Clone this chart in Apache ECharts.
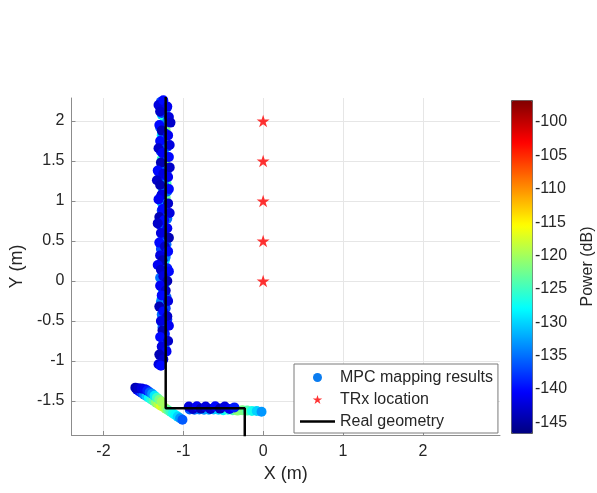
<!DOCTYPE html>
<html>
<head>
<meta charset="utf-8">
<script src="https://cdn.jsdelivr.net/npm/echarts@6/dist/echarts.min.js"></script>
<style>html,body{margin:0;padding:0;background:#fff}#c{width:597px;height:493px}</style>
</head>
<body>
<div id="c"></div>
<script>
// ---- Data ----
// Vertical wall strip, lighter (inner) estimates
const vertLightX = [-1.26,-1.24,-1.27,-1.23,-1.25,-1.22,-1.27,-1.24,-1.21,-1.26,
  -1.23,-1.27,-1.22,-1.25,-1.28,-1.23,-1.21,-1.26,-1.24,-1.22,
  -1.27,-1.23,-1.25,-1.21,-1.26,-1.23,-1.25,-1.22,-1.27,-1.24,
  -1.22,-1.26,-1.23,-1.25,-1.27,-1.22,-1.25,-1.23,-1.26,-1.24,
  -1.27,-1.23,-1.26,-1.24,-1.27,-1.25,-1.26];
const vertLightY = [2.22,2.15,2.08,2.02,1.95,1.88,1.82,1.75,1.70,1.64,
  1.58,1.52,1.46,1.40,1.34,1.28,1.22,1.16,1.10,1.04,
  0.98,0.92,0.86,0.80,0.74,0.68,0.62,0.56,0.50,0.44,
  0.38,0.32,0.26,0.20,0.14,0.08,0.02,-0.04,-0.10,-0.16,
  -0.22,-0.28,-0.36,-0.44,-0.52,-0.60,-0.68];
const vertLightP = [-132,-128,-130,-126,-131,-122,-129,-134,-119,-127,
  -131,-125,-121,-133,-128,-130,-124,-132,-127,-123,
  -131,-129,-126,-133,-128,-130,-125,-122,-132,-129,
  -127,-133,-130,-128,-131,-126,-134,-129,-132,-127,
  -131,-128,-133,-130,-129,-132,-127];
// Vertical wall strip, medium blue estimates
const vertMidX = [-1.28,-1.21,-1.27,-1.20,-1.29,-1.22,-1.26,-1.20,-1.28,-1.23,
  -1.27,-1.21,-1.29,-1.24,-1.20,-1.28,-1.22,-1.27,-1.20,-1.29,
  -1.23,-1.26,-1.21,-1.28,-1.22,-1.27,-1.20,-1.29,-1.23,-1.26,
  -1.21,-1.28,-1.22,-1.27,-1.20,-1.26,-1.23,-1.25,-1.22,-1.27];
const vertMidY = [2.24,2.16,2.10,2.00,1.92,1.84,1.78,1.68,1.62,1.54,
  1.44,1.36,1.30,1.20,1.12,1.06,0.95,0.88,0.78,0.70,
  0.64,0.58,0.46,0.40,0.30,0.22,0.16,0.04,-0.02,-0.08,
  -0.20,-0.26,-0.34,-0.42,-0.48,-0.58,-0.66,-0.78,-0.86,-0.95];
const vertMidP = [-137,-135,-138,-134,-136,-139,-135,-137,-138,-134,
  -136,-137,-139,-135,-136,-138,-134,-137,-135,-139,
  -136,-138,-135,-137,-134,-136,-139,-135,-137,-138,
  -136,-134,-137,-135,-138,-136,-139,-137,-135,-138];
// Vertical wall strip, dark (outer) estimates
const vertDarkX = [-1.31,-1.25,-1.20,-1.29,-1.18,-1.16,-1.30,-1.27,-1.19,-1.29,
  -1.17,-1.31,-1.26,-1.18,-1.28,-1.17,-1.32,-1.25,-1.19,-1.33,
  -1.29,-1.18,-1.27,-1.31,-1.19,-1.26,-1.17,-1.30,-1.24,-1.32,
  -1.20,-1.28,-1.18,-1.30,-1.23,-1.19,-1.29,-1.26,-1.32,-1.28,
  -1.18,-1.25,-1.20,-1.29,-1.22,-1.27,-1.19,-1.30,-1.25,-1.20,
  -1.28,-1.18,-1.26,-1.29,-1.19,-1.27,-1.21,-1.30,-1.25,-1.31,-1.28];
const vertDarkY = [2.20,2.26,2.18,2.12,2.05,1.98,1.95,1.88,1.82,1.75,
  1.70,1.66,1.60,1.55,1.48,1.42,1.38,1.34,1.30,1.26,
  1.20,1.15,1.08,1.02,0.97,0.90,0.85,0.80,0.76,0.72,
  0.66,0.60,0.54,0.48,0.43,0.37,0.32,0.26,0.20,0.14,
  0.12,0.06,0.00,-0.06,-0.12,-0.18,-0.25,-0.32,-0.38,-0.44,
  -0.50,-0.56,-0.62,-0.70,-0.75,-0.82,-0.88,-0.92,-0.98,-1.04,-1.06];
const vertDarkP = [-142,-140,-141,-143,-142,-143,-140,-144,-141,-140,
  -142,-143,-141,-140,-144,-143,-140,-142,-141,-143,
  -144,-140,-142,-141,-143,-140,-142,-144,-140,-143,
  -141,-142,-144,-140,-143,-140,-142,-144,-141,-143,
  -140,-142,-144,-141,-143,-140,-142,-144,-140,-143,
  -142,-141,-144,-140,-143,-142,-141,-144,-143,-142,-140];
// Diagonal strip, lower row
const diagLowX = [-1.58,-1.55,-1.52,-1.49,-1.46,-1.43,-1.40,-1.37,-1.34,-1.31,
  -1.28,-1.25,-1.22,-1.19,-1.16,-1.13,-1.10,-1.07,-1.04,-1.01];
const diagLowY = [-1.36,-1.38,-1.40,-1.42,-1.44,-1.46,-1.48,-1.50,-1.52,-1.54,
  -1.56,-1.575,-1.595,-1.615,-1.635,-1.655,-1.675,-1.695,-1.715,-1.735];
const diagLowP = [-142,-140,-137,-134,-131,-128,-126,-124,-121,-119,
  -117,-118,-120,-123,-125,-127,-128,-130,-133,-136];
// Diagonal strip, upper row
const diagUpX = [-1.60,-1.56,-1.52,-1.48,-1.45,-1.42,-1.39,-1.36,-1.33,-1.30,-1.27];
const diagUpY = [-1.333,-1.340,-1.345,-1.352,-1.37,-1.39,-1.41,-1.435,-1.46,-1.485,-1.51];
const diagUpP = [-144,-143,-142,-141,-139,-136,-133,-129,-125,-122,-120];
// Horizontal strip, lighter row
const horzLightX = [-0.92,-0.86,-0.80,-0.74,-0.68,-0.62,-0.56,-0.50,-0.44,-0.38,
  -0.32,-0.26,-0.20,-0.14,-0.08,-0.02];
const horzLightY = [-1.605,-1.61,-1.605,-1.61,-1.61,-1.605,-1.61,-1.615,-1.61,-1.615,
  -1.62,-1.615,-1.62,-1.625,-1.625,-1.635];
const horzLightP = [-136,-135,-134,-133,-132,-131,-130,-128,-126,-124,
  -121,-122,-124,-127,-130,-133];
// Horizontal strip, dark row
const horzDarkX = [-0.93,-0.88,-0.83,-0.78,-0.72,-0.66,-0.60,-0.54,-0.48,-0.42,-0.36];
const horzDarkY = [-1.57,-1.60,-1.565,-1.595,-1.57,-1.60,-1.565,-1.595,-1.57,-1.60,-1.58];
const horzDarkP = [-142,-143,-141,-144,-142,-143,-140,-144,-142,-141,-139];
// TRx locations
const trxX = [0,0,0,0,0];
const trxY = [0,0.5,1,1.5,2];
// Real geometry polyline
const geomX = [-1.22,-1.22,-0.23,-0.23];
const geomY = [2.30,-1.59,-1.59,-1.95];
// Power colour range (dB)
const powerMin = -146.6, powerMax = -96.7;

// ---- Build ----
function triples(xs, ys, ps){ return xs.map((x,i)=>[x, ys[i], ps[i]]); }
const mpcData = [].concat(
  triples(vertLightX, vertLightY, vertLightP),
  triples(vertMidX, vertMidY, vertMidP),
  triples(vertDarkX, vertDarkY, vertDarkP),
  triples(diagLowX, diagLowY, diagLowP),
  triples(diagUpX, diagUpY, diagUpP),
  triples(horzLightX, horzLightY, horzLightP),
  triples(horzDarkX, horzDarkY, horzDarkP)
);
const trxData = trxX.map((x,i)=>[x, trxY[i]]);
const geomData = geomX.map((x,i)=>[x, geomY[i]]);

const jet = ['#000080','#0000FF','#0080FF','#00FFFF','#80FF80','#FFFF00','#FF8000','#FF0000','#800000'];
const star = 'path://M50,0 L61.2,34.5 L97.6,34.5 L68.2,55.9 L79.4,90.5 L50,69.1 L20.6,90.5 L31.8,55.9 L2.4,34.5 L38.8,34.5 Z';
const lineIcon = 'path://M0,0 L100,0 L100,7 L0,7 Z';
const FONT = '"Liberation Sans", Arial, Helvetica, sans-serif';
const axisGray = '#8c8c8c';
const txt = '#262626';

const chart = echarts.init(document.getElementById('c'), null, {renderer: 'canvas'});
chart.setOption({
  animation: false,
  textStyle: {fontFamily: FONT},
  grid: [
    {left: 71, right: 97, top: 98, bottom: 58},
    {left: 511, top: 100, width: 21, height: 333, show: false}
  ],
  xAxis: [
    {type: 'value', gridIndex: 0, min: -2.4, max: 2.966, splitNumber: 5,
     axisLine: {show: true, onZero: false, lineStyle: {color: axisGray, width: 1}},
     axisTick: {show: true, inside: true, length: 4, lineStyle: {color: axisGray}},
     axisLabel: {color: txt, fontSize: 16, margin: 9, showMinLabel: false, showMaxLabel: false, fontFamily: FONT},
     splitLine: {show: true, showMinLine: false, showMaxLine: false, lineStyle: {color: '#e6e6e6', width: 1}},
     name: 'X (m)', nameLocation: 'middle', nameGap: 30,
     nameTextStyle: {color: txt, fontSize: 18, fontFamily: FONT}},
    {type: 'value', gridIndex: 1, show: false, min: 0, max: 1}
  ],
  yAxis: [
    {type: 'value', gridIndex: 0, min: -1.925, max: 2.2875, splitNumber: 8,
     axisLine: {show: true, onZero: false, lineStyle: {color: axisGray, width: 1}},
     axisTick: {show: true, inside: true, length: 4, lineStyle: {color: axisGray}},
     axisLabel: {color: txt, fontSize: 16, margin: 7, showMinLabel: false, showMaxLabel: false, fontFamily: FONT},
     splitLine: {show: true, showMinLine: false, showMaxLine: false, lineStyle: {color: '#e6e6e6', width: 1}},
     name: 'Y (m)', nameLocation: 'middle', nameGap: 38, nameRotate: 90,
     nameTextStyle: {color: txt, fontSize: 18, fontFamily: FONT}},
    {type: 'value', gridIndex: 1, position: 'right', min: powerMin, max: powerMax, splitNumber: 10,
     axisLine: {show: false}, axisTick: {show: false}, splitLine: {show: false},
     axisLabel: {color: txt, fontSize: 16, margin: 4, showMinLabel: false, showMaxLabel: false, fontFamily: FONT},
     name: 'Power (dB)', nameLocation: 'middle', nameGap: 49, nameRotate: 90,
     nameTextStyle: {color: txt, fontSize: 16, fontFamily: FONT}}
  ],
  visualMap: {
    type: 'continuous', seriesIndex: 0, dimension: 2,
    min: powerMin, max: powerMax, calculable: false, realtime: false,
    left: 511, top: 100, itemWidth: 21, itemHeight: 333, padding: 0,
    borderColor: '#555', borderWidth: 1, text: null,
    inRange: {color: jet}, hoverLink: false
  },
  legend: {
    orient: 'vertical', left: 294, top: 364,
    padding: [5, 5, 3, 6], itemGap: 5, itemWidth: 35, itemHeight: 9,
    backgroundColor: '#fff', borderColor: '#7a7a7a', borderWidth: 1,
    selectedMode: false,
    textStyle: {color: txt, fontSize: 16, lineHeight: 17, fontFamily: FONT},
    data: [
      {name: 'MPC mapping results'},
      {name: 'TRx location'},
      {name: 'Real geometry', icon: lineIcon, itemStyle: {color: '#000'}}
    ]
  },
  series: [
    {name: 'MPC mapping results', type: 'scatter', xAxisIndex: 0, yAxisIndex: 0,
     data: mpcData, symbol: 'circle', symbolSize: 10, clip: false,
     itemStyle: {color: '#0A7CF0', opacity: 1, borderWidth: 0}, emphasis: {disabled: true}, z: 2},
    {name: 'TRx location', type: 'scatter', xAxisIndex: 0, yAxisIndex: 0,
     data: trxData, symbol: star, symbolSize: 13, symbolKeepAspect: true,
     itemStyle: {color: '#FF0000', borderWidth: 0}, emphasis: {disabled: true}, z: 3},
    {name: 'Real geometry', type: 'line', xAxisIndex: 0, yAxisIndex: 0,
     data: geomData, symbol: 'none', showSymbol: false, clip: true,
     lineStyle: {color: '#000', width: 2.5}, itemStyle: {color: '#000'},
     emphasis: {disabled: true}, z: 4}
  ]
});
</script>
</body>
</html>
